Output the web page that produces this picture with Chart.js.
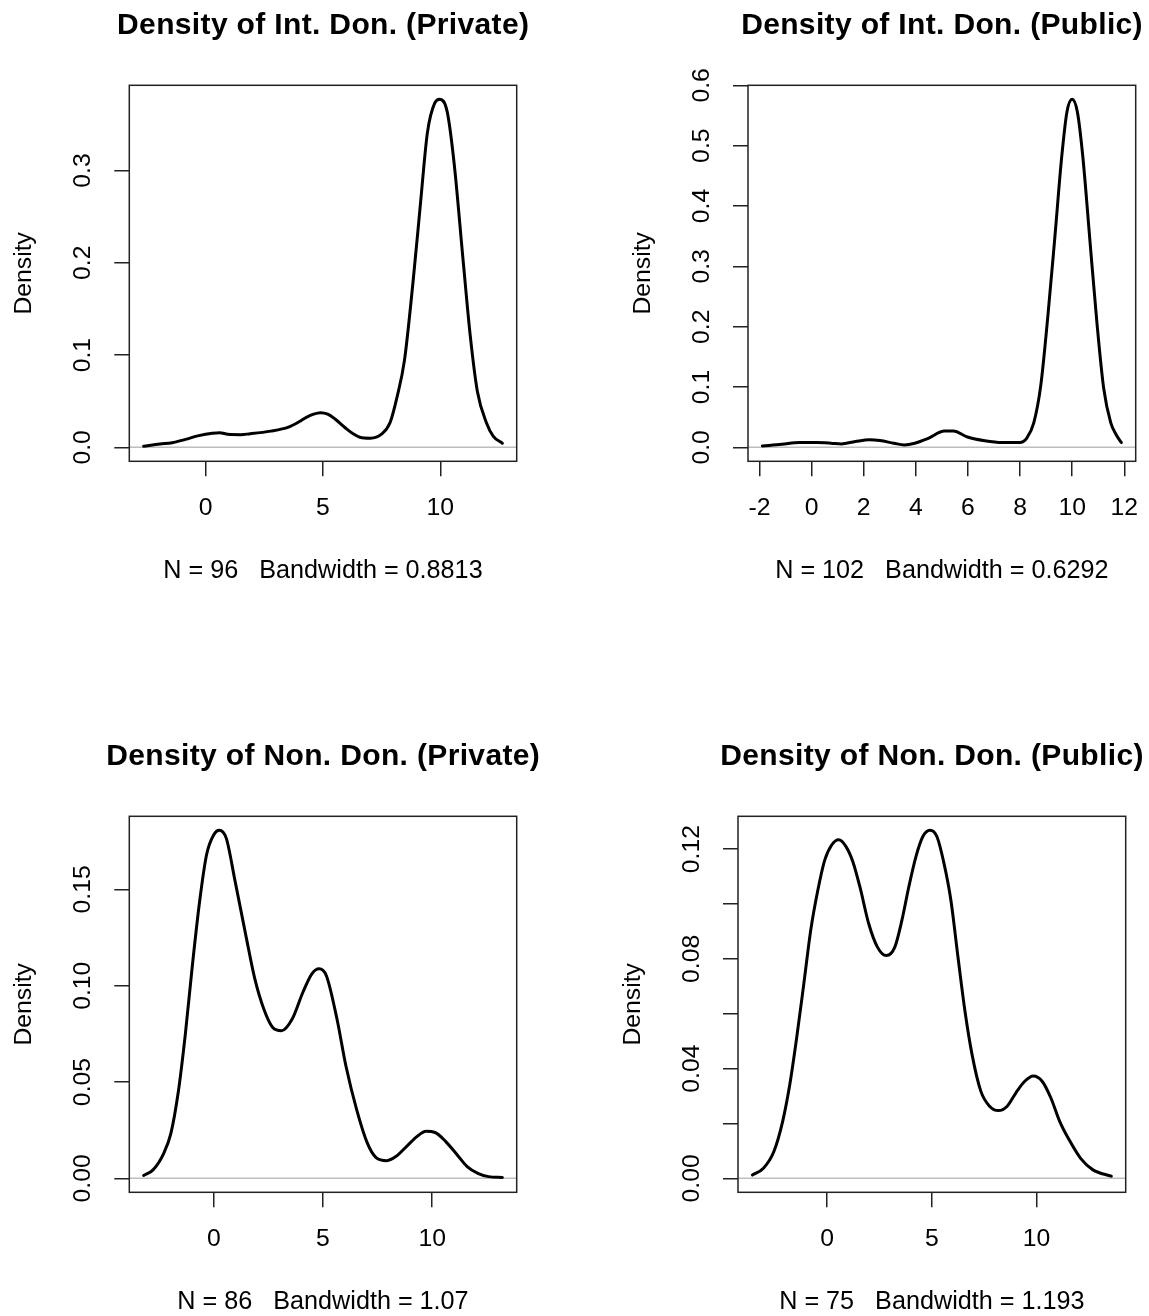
<!DOCTYPE html>
<html><head><meta charset="utf-8">
<script src="https://cdn.jsdelivr.net/npm/chart.js@4.4.1/dist/chart.umd.min.js"></script>
<style>
html,body{margin:0;padding:0;background:#fff;overflow:hidden;width:1149px;height:1316px;}
canvas{position:absolute;}
</style></head><body>
<canvas id="c1" width="574" height="600" style="left:0px;top:0px"></canvas>
<canvas id="c2" width="575" height="600" style="left:574px;top:0px"></canvas>
<canvas id="c3" width="574" height="600" style="left:0px;top:731px"></canvas>
<canvas id="c4" width="575" height="600" style="left:574px;top:731px"></canvas>
<script>
// ---------- Panel 1: Int. Don. (Private) ----------
const p1Title = 'Density of Int. Don. (Private)';
const p1Sub = 'N = 96   Bandwidth = 0.8813';
const p1X = [-2.644,-1.95,-1.43,-0.86,-0.29,0.28,0.6,0.94,1.5,1.85,2.77,3.53,4.0,4.29,4.6,4.9,5.2,5.5,5.96,6.3,6.57,7.02,7.48,7.86,8.16,8.47,8.84,9.15,9.45,9.76,9.98,10.29,10.59,10.97,11.28,11.58,11.96,12.26,12.644];
const p1Y = [0.0012,0.0037,0.005,0.0087,0.0127,0.0152,0.0158,0.0142,0.0138,0.0146,0.0176,0.022,0.028,0.0325,0.036,0.0376,0.036,0.031,0.021,0.0145,0.011,0.0100,0.014,0.027,0.055,0.094,0.18,0.263,0.341,0.373,0.3772,0.364,0.3075,0.203,0.12,0.0606,0.027,0.012,0.0045];
const p1XTicks = [0,5,10];
const p1XLabels = ['0','5','10'];
const p1YTicks = [0,0.1,0.2,0.3];
const p1YLabels = ['0.0','0.1','0.2','0.3'];

// ---------- Panel 2: Int. Don. (Public) ----------
const p2Title = 'Density of Int. Don. (Public)';
const p2Sub = 'N = 102   Bandwidth = 0.6292';
const p2X = [-1.888,-1.14,-0.47,0.2,0.74,1.14,1.68,2.22,2.62,3.16,3.56,3.96,4.5,5.1,5.44,5.98,6.65,7.32,7.99,8.26,8.53,8.8,9.07,9.34,9.6,9.8,10.0,10.2,10.41,10.68,10.95,11.21,11.48,11.69,11.888];
const p2Y = [0.0023,0.005,0.008,0.008,0.007,0.0057,0.0097,0.0126,0.0114,0.0069,0.004,0.0069,0.0154,0.027,0.027,0.0172,0.0109,0.008,0.008,0.0154,0.041,0.104,0.2185,0.35,0.4817,0.556,0.577,0.556,0.4817,0.344,0.207,0.098,0.041,0.021,0.008];
const p2XTicks = [-2,0,2,4,6,8,10,12];
const p2XLabels = ['-2','0','2','4','6','8','10','12'];
const p2YTicks = [0,0.1,0.2,0.3,0.4,0.5,0.6];
const p2YLabels = ['0.0','0.1','0.2','0.3','0.4','0.5','0.6'];

// ---------- Panel 3: Non. Don. (Private) ----------
const p3Title = 'Density of Non. Don. (Private)';
const p3Sub = 'N = 86   Bandwidth = 1.07';
const p3X = [-3.21,-2.78,-2.29,-1.96,-1.63,-1.31,-0.98,-0.65,-0.33,0.0,0.25,0.57,0.98,1.47,1.88,2.29,2.7,3.1,3.59,4.08,4.49,4.82,5.15,5.64,6.05,6.54,7.03,7.43,7.92,8.33,8.82,9.31,9.72,10.13,10.62,11.11,11.6,12.09,12.58,13.21];
const p3Y = [0.0015,0.0044,0.013,0.0235,0.0444,0.074,0.1105,0.1436,0.168,0.1784,0.1807,0.1766,0.154,0.126,0.1035,0.0879,0.0783,0.0766,0.0827,0.0966,0.1062,0.1088,0.1053,0.0827,0.0583,0.0357,0.0183,0.0108,0.0092,0.0113,0.0165,0.0218,0.0244,0.0238,0.0191,0.0127,0.0061,0.0026,0.0009,0.0005];
const p3XTicks = [0,5,10];
const p3XLabels = ['0','5','10'];
const p3YTicks = [0,0.05,0.10,0.15];
const p3YLabels = ['0.00','0.05','0.10','0.15'];

// ---------- Panel 4: Non. Don. (Public) ----------
const p4Title = 'Density of Non. Don. (Public)';
const p4Sub = 'N = 75   Bandwidth = 1.193';
const p4X = [-3.579,-3.05,-2.55,-2.13,-1.79,-1.46,-1.12,-0.79,-0.45,-0.12,0.22,0.55,0.89,1.22,1.56,1.98,2.4,2.82,3.23,3.57,3.9,4.24,4.57,4.91,5.24,5.58,5.91,6.25,6.58,6.92,7.34,7.76,8.18,8.6,9.02,9.44,9.85,10.27,10.69,11.11,11.61,12.11,12.7,13.579];
const p4Y = [0.0012,0.0037,0.0098,0.0208,0.0342,0.0513,0.0709,0.0904,0.105,0.116,0.1216,0.1234,0.121,0.1155,0.1063,0.0929,0.0843,0.0812,0.0843,0.0941,0.1063,0.1173,0.1246,0.1269,0.1246,0.1148,0.1014,0.0806,0.0611,0.0452,0.0318,0.0263,0.0247,0.0263,0.0312,0.0354,0.0373,0.0354,0.0293,0.0208,0.0134,0.0073,0.0031,0.0008];
const p4XTicks = [0,5,10];
const p4XLabels = ['0','5','10'];
const p4YTicks = [0,0.02,0.04,0.06,0.08,0.10,0.12];
const p4YLabels = ['0.00','','0.04','','0.08','','0.12'];

const FONT = '"Liberation Sans", Arial, Helvetica, sans-serif';
const TXT = 24.75;

const rPlot = {
  id: 'rPlot',
  beforeDatasetsDraw(chart) {
    const {ctx, chartArea: a, scales: {y}} = chart;
    const y0 = y.getPixelForValue(0);
    ctx.save();
    ctx.strokeStyle = '#bebebe'; ctx.lineWidth = 1.5;
    ctx.beginPath(); ctx.moveTo(a.left, y0); ctx.lineTo(a.right, y0); ctx.stroke();
    ctx.restore();
  },
  afterDraw(chart, args, opts) {
    const {ctx, chartArea: a, scales: {y}} = chart;
    ctx.save();
    ctx.strokeStyle = '#222'; ctx.lineWidth = 1.5;
    ctx.strokeRect(a.left, a.top, a.right - a.left, a.bottom - a.top);
    ctx.fillStyle = '#000';
    // y tick labels, rotated like R (las = 0)
    ctx.font = TXT + 'px ' + FONT;
    ctx.textAlign = 'center'; ctx.textBaseline = 'middle';
    y.ticks.forEach(t => {
      const idx = opts.values.findIndex(v => Math.abs(v - t.value) < 1e-9);
      const lab = idx >= 0 ? opts.labels[idx] : '';
      if (!lab) return;
      const py = y.getPixelForValue(t.value);
      ctx.save(); ctx.translate(a.left - 46, py); ctx.rotate(-Math.PI / 2);
      ctx.fillText(lab, 0, 0); ctx.restore();
    });
    // main title centred over the plot box
    ctx.font = 'bold 30px ' + FONT;
    try { ctx.letterSpacing = '0.35px'; } catch (e) {}
    ctx.textAlign = 'center'; ctx.textBaseline = 'alphabetic';
    ctx.fillText(opts.title, (a.left + a.right) / 2 + 0.2, 34.3);
    ctx.restore();
  }
};

function makePanel(id, title, sub, xs, ys, xt, xl, yt, yl, lay) {
  const pts = xs.map((x, i) => ({x: x, y: ys[i]}));
  const xr = xs[xs.length - 1] - xs[0];
  const ymax = Math.max(...ys);
  const gridOpt = {drawOnChartArea: false, drawTicks: true, tickLength: 15, color: '#222', lineWidth: 1.5};
  new Chart(document.getElementById(id), {
    type: 'line',
    data: {datasets: [{data: pts, borderColor: '#000', borderWidth: 3, pointRadius: 0, fill: false,
      cubicInterpolationMode: 'monotone', borderJoinStyle: 'round', borderCapStyle: 'round'}]},
    options: {
      responsive: false, animation: false, devicePixelRatio: 1,
      layout: {padding: {left: 0, top: 85.3, right: lay.rightPad, bottom: 0}},
      plugins: {
        legend: {display: false}, tooltip: {enabled: false}, title: {display: false},
        rPlot: {values: yt, labels: yl, title: title}
      },
      scales: {
        x: {type: 'linear', position: 'bottom',
          min: xs[0] - 0.04 * xr, max: xs[xs.length - 1] + 0.04 * xr,
          afterBuildTicks: s => { s.ticks = xt.map(v => ({value: v})); },
          afterFit: s => { s.height = 600 - lay.bottom; s.paddingLeft = 0; s.paddingRight = 0; },
          ticks: {autoSkip: false, maxRotation: 0, minRotation: 0, padding: 16.75, color: '#000',
            font: {family: FONT, size: TXT},
            callback: v => { const i = xt.findIndex(t => Math.abs(t - v) < 1e-9); return i >= 0 ? xl[i] : ''; }},
          grid: gridOpt, border: {display: false},
          title: {display: true, text: sub, color: '#000', font: {family: FONT, size: 25.2, lineHeight: 1.2},
            padding: {top: 0, bottom: 14}}
        },
        y: {type: 'linear', position: 'left',
          min: -0.04 * ymax, max: 1.04 * ymax,
          afterBuildTicks: s => { s.ticks = yt.map(v => ({value: v})); },
          afterFit: s => { s.width = lay.left; s.paddingTop = 0; s.paddingBottom = 0; },
          ticks: {display: false},
          grid: gridOpt, border: {display: false},
          title: {display: true, text: 'Density', color: '#000', font: {family: FONT, size: TXT, lineHeight: 1.2},
            padding: {top: lay.yTitlePad, bottom: 0}}
        }
      }
    },
    plugins: [rPlot]
  });
}

makePanel('c1', p1Title, p1Sub, p1X, p1Y, p1XTicks, p1XLabels, p1YTicks, p1YLabels,
  {left: 129.3, rightPad: 57.3, bottom: 461.3, yTitlePad: 9});
makePanel('c2', p2Title, p2Sub, p2X, p2Y, p2XTicks, p2XLabels, p2YTicks, p2YLabels,
  {left: 174, rightPad: 13.3, bottom: 461.3, yTitlePad: 54.75});
makePanel('c3', p3Title, p3Sub, p3X, p3Y, p3XTicks, p3XLabels, p3YTicks, p3YLabels,
  {left: 129.3, rightPad: 57.3, bottom: 461.3, yTitlePad: 9});
makePanel('c4', p4Title, p4Sub, p4X, p4Y, p4XTicks, p4XLabels, p4YTicks, p4YLabels,
  {left: 164, rightPad: 23.3, bottom: 461.3, yTitlePad: 44});
</script>
</body></html>
